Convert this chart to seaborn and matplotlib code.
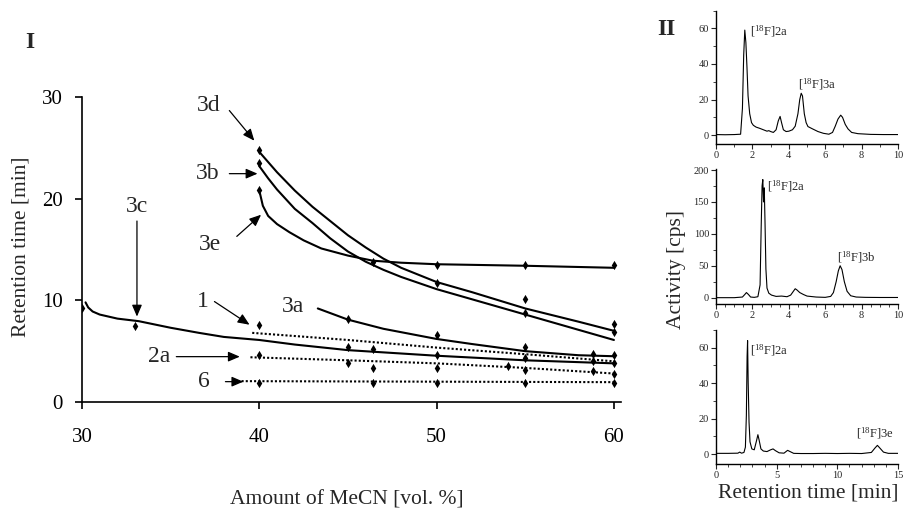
import numpy as np
import pandas as pd
import seaborn as sns
import matplotlib.pyplot as plt
from matplotlib.ticker import MultipleLocator

sns.set_style("ticks")
plt.rcParams['font.family'] = ['Liberation Serif', 'DejaVu Serif']
plt.rcParams['mathtext.default'] = 'regular'

# --- Panel I: retention time vs. amount of MeCN ---
# fitted curves (solid)
c3d_x = [40, 41, 42, 43, 44, 45, 46, 47, 48, 50, 52, 55, 58, 60]
c3d_y = [24.6, 22.6, 20.8, 19.2, 17.8, 16.4, 15.2, 14.1, 13.2, 11.8, 10.8, 9.2, 7.9, 7.0]
c3b_x = [40, 40.5, 41, 42, 43, 44, 45, 46, 47, 48, 50, 52, 55, 58, 60]
c3b_y = [23.2, 22.0, 20.9, 19.0, 17.6, 16.1, 14.8, 13.8, 13.0, 12.3, 11.1, 10.1, 8.6, 7.1, 6.1]
c3e_x = [40, 40.2, 40.5, 41, 41.7, 42.5, 43.5, 45, 46.4, 48, 50, 55, 60]
c3e_y = [20.8, 19.3, 18.3, 17.5, 16.7, 15.9, 15.1, 14.4, 13.9, 13.7, 13.55, 13.4, 13.2]
c3a_x = [43.3, 45, 47, 50, 52, 55, 58, 60]
c3a_y = [9.2, 8.1, 7.2, 6.2, 5.7, 5.0, 4.6, 4.5]
c3c_x = [30.2, 30.35, 30.6, 31, 32, 33.2, 35, 36.6, 38, 40, 42, 45, 50, 55, 60]
c3c_y = [9.8, 9.3, 8.9, 8.6, 8.2, 7.95, 7.3, 6.8, 6.4, 6.1, 5.65, 5.1, 4.55, 4.1, 3.8]

# fitted curves (dotted)
d1_x = [39.6, 45, 50, 55, 60]
d1_y = [6.8, 6.1, 5.35, 4.7, 4.0]
d2a_x = [39.5, 45, 50, 55, 60]
d2a_y = [4.4, 4.1, 3.8, 3.35, 2.8]
d6_x = [39.0, 60]
d6_y = [2.05, 1.95]

# measured points
p3d_x = [40, 50, 55, 60]
p3d_y = [24.8, 11.75, 10.1, 7.7]
p3b_x = [40, 55, 60]
p3b_y = [23.5, 8.75, 6.85]
p3e_x = [40, 46.4, 50, 55, 60]
p3e_y = [20.9, 13.8, 13.45, 13.45, 13.45]
p3a_x = [45, 50, 55, 60]
p3a_y = [8.2, 6.6, 5.45, 4.6]
p3c_x = [30, 33, 46.4, 50, 55, 58.8, 60]
p3c_y = [9.2, 7.5, 5.2, 4.65, 4.3, 4.75, 3.8]
p1_x = [40, 45, 58.8]
p1_y = [7.6, 5.45, 4.0]
p2a_x = [40, 45, 46.4, 50, 54, 55, 58.8, 60]
p2a_y = [4.6, 3.8, 3.3, 3.35, 3.55, 3.1, 3.0, 2.75]
p6_x = [40, 46.4, 50, 55, 60]
p6_y = [1.85, 1.85, 1.9, 1.85, 1.9]

# --- Panel II: radio-chromatograms ---
t1 = [0, 0.5, 1.0, 1.35, 1.45, 1.52, 1.58, 1.64, 1.7, 1.76, 1.85, 1.95, 2.05, 2.2, 2.4, 2.6, 2.8, 2.9,
      3.0, 3.15, 3.3, 3.42, 3.52, 3.6, 3.7, 3.85, 4.0, 4.2, 4.35, 4.5, 4.6, 4.68, 4.75, 4.85, 4.95,
      5.05, 5.3, 5.6, 5.9, 6.2, 6.4, 6.55, 6.7, 6.85, 6.95, 7.1, 7.25, 7.45, 7.8, 8.5, 9.2, 10.0]
a1 = [0.3, 0.2, 0.3, 0.5, 15, 45, 59, 52, 38, 22, 12, 7, 5.5, 4.5, 3.8, 3, 2.2, 2.5,
      2, 1.5, 3, 8, 10.5, 7, 3, 2, 2.2, 3, 5, 12, 20, 23.5, 22, 12, 7,
      4.8, 3.5, 2, 1, 0.5, 1.5, 5, 9, 11.2, 10, 6, 3.5, 1.5, 0.8, 0.4, 0.3, 0.3]
t2 = [0, 0.5, 1.0, 1.45, 1.58, 1.67, 1.78, 1.9, 2.1, 2.3, 2.42, 2.48, 2.53, 2.57, 2.61, 2.65, 2.69,
      2.74, 2.8, 2.9, 3.05, 3.3, 3.6, 3.9, 4.1, 4.25, 4.35, 4.45, 4.6, 4.8, 5.0, 5.5, 6.0, 6.3, 6.45,
      6.6, 6.72, 6.82, 6.92, 7.05, 7.2, 7.4, 7.7, 8.2, 9.0, 10.0]
a2 = [0, 0, 0, 1, 5, 8, 5, 1, 0.5, 1.5, 20, 110, 175, 185, 150, 172, 120,
      45, 15, 7, 4, 2, 2.5, 1.5, 4, 10, 14, 12, 8, 5, 2.5, 1, 0.5, 2, 8,
      25, 42, 50, 44, 25, 10, 3, 1, 0.5, 0.3, 0.3]
t3 = [0, 1.0, 1.8, 1.95, 2.1, 2.3, 2.42, 2.5, 2.56, 2.6, 2.65, 2.72, 2.8, 2.95, 3.15, 3.35, 3.45,
      3.55, 3.7, 3.9, 4.2, 4.5, 4.7, 4.9, 5.2, 5.6, 5.9, 6.1, 6.4, 7.0, 8.0, 9.0, 10.0, 11.0, 12.0,
      12.8, 13.1, 13.3, 13.5, 13.8, 14.2, 15.0]
a3 = [0.5, 0.5, 0.6, 1.2, 0.6, 1.0, 4, 22, 55, 64, 40, 18, 7, 3, 2.5, 8, 11,
      8, 3, 1.8, 1.5, 2.5, 3, 2, 0.8, 0.6, 2.2, 1.5, 0.5, 0.4, 0.4, 0.5, 0.4, 0.5, 0.4,
      1, 3.5, 5, 3.5, 1.2, 0.5, 0.5]

fig = plt.figure(figsize=(9.05, 5.13), dpi=100)

# ---------------- Panel I ----------------
ax = fig.add_axes([0.0906, 0.2164, 0.5956, 0.5945])
for cx, cy in [(c3d_x, c3d_y), (c3b_x, c3b_y), (c3e_x, c3e_y), (c3a_x, c3a_y), (c3c_x, c3c_y)]:
    sns.lineplot(x=cx, y=cy, ax=ax, color='black', lw=1.5, estimator=None, sort=False)
for cx, cy in [(d1_x, d1_y), (d2a_x, d2a_y), (d6_x, d6_y)]:
    sns.lineplot(x=cx, y=cy, ax=ax, color='black', lw=1.5, linestyle=(0, (1, 1)),
                 estimator=None, sort=False)
for px, py in [(p3d_x, p3d_y), (p3b_x, p3b_y), (p3e_x, p3e_y), (p3a_x, p3a_y),
               (p3c_x, p3c_y), (p1_x, p1_y), (p2a_x, p2a_y), (p6_x, p6_y)]:
    sns.scatterplot(x=px, y=py, ax=ax, marker='d', s=22, color='black', linewidth=0, zorder=3)

ax.set_xlim(30, 60.4)
ax.set_ylim(0, 30)
ax.set_xticks([30, 40, 50, 60])
ax.set_yticks([0, 10, 20, 30])
ax.tick_params(axis='both', direction='out', length=5, width=1.2, labelsize=15, colors='black')
ax.tick_params(axis='x', pad=14)
ax.tick_params(axis='y', pad=9)
sns.despine(ax=ax)
for s in ['left', 'bottom']:
    ax.spines[s].set_linewidth(1.2)
    ax.spines[s].set_color('black')

# compound labels with arrows: (text, text pos, arrow start, arrow tip)
labels = [
    ('3d', (37.13, 29.2), (38.31, 28.67), (39.72, 25.7)),
    ('3b', (37.08, 22.5), (38.31, 22.46), (39.9, 22.46)),
    ('3e', (37.23, 15.5), (38.73, 16.29), (40.1, 18.42)),
    ('3c', (33.1, 19.2), (33.1, 17.8), (33.1, 8.4)),
    ('1', (36.84, 9.85), (37.47, 9.88), (39.45, 7.6)),
    ('2a', (34.34, 4.45), (35.32, 4.46), (38.9, 4.46)),
    ('6', (36.85, 2.0), (38.09, 2.0), (39.1, 2.0)),
]
arrow_kw = dict(arrowstyle='-|>,head_length=0.7,head_width=0.3', lw=0.9, color='black',
                shrinkA=0, shrinkB=0, mutation_scale=10)
for txt, tpos, a0, a1_ in labels:
    ax.text(tpos[0], tpos[1], txt, fontsize=17, ha='center', va='center')
    ax.annotate('', xy=a1_, xytext=a0, arrowprops=arrow_kw)
ax.text(41.91, 9.4, '3a', fontsize=17, ha='center', va='center')

fig.text(0.0232, 0.5185, 'Retention time [min]', rotation=90, fontsize=15.5, ha='center', va='center')
fig.text(0.383, 0.0253, 'Amount of MeCN [vol. %]', fontsize=15.5, ha='center', va='center')
fig.text(0.033, 0.918, 'I', fontsize=17, fontweight='bold', ha='center', va='center')

# ---------------- Panel II ----------------
fig.text(0.736, 0.943, 'II', fontsize=17, fontweight='bold', ha='center', va='center')

panels = [
    (t1, a1, [0.7912, 0.7193, 0.2011, 0.2602], (0, 10), (-5, 70), 2, 1, [0, 20, 40, 60], 10,
     [('[$^{18}$F]2a', 1.85, 58.5), ('[$^{18}$F]3a', 4.48, 28.7)]),
    (t2, a2, [0.7912, 0.4068, 0.2011, 0.2643], (0, 10), (-10.4, 202), 2, 0.5, [0, 50, 100, 150, 200], 25,
     [('[$^{18}$F]2a', 2.78, 174), ('[$^{18}$F]3b', 6.63, 63)]),
    (t3, a3, [0.7912, 0.0955, 0.2011, 0.2614], (0, 15), (-5.5, 70), 5, 1, [0, 20, 40, 60], 10,
     [('[$^{18}$F]2a', 2.78, 58.7), ('[$^{18}$F]3e', 11.5, 12)]),
]
for t, a, rect, xl, yl, xmaj, xmin, yt, ymin, texts in panels:
    axp = fig.add_axes(rect)
    sns.lineplot(x=t, y=a, ax=axp, color='black', lw=0.8, estimator=None, sort=False)
    axp.set_xlim(*xl)
    axp.set_ylim(*yl)
    axp.xaxis.set_major_locator(MultipleLocator(xmaj))
    axp.xaxis.set_minor_locator(MultipleLocator(xmin))
    axp.set_yticks(yt)
    axp.yaxis.set_minor_locator(MultipleLocator(ymin))
    axp.tick_params(which='major', direction='out', length=3.5, width=0.8, labelsize=7.5, pad=1.5)
    axp.tick_params(which='minor', direction='out', length=2, width=0.6)
    sns.despine(ax=axp)
    for s in ['left', 'bottom']:
        axp.spines[s].set_linewidth(1.0)
        axp.spines[s].set_color('black')
    for txt, tx, ty in texts:
        axp.text(tx, ty, txt, fontsize=9, ha='left', va='center')

fig.text(0.747, 0.4756, 'Activity [cps]', rotation=90, fontsize=15.5, ha='center', va='center')
fig.text(0.893, 0.039, 'Retention time [min]', fontsize=15.5, ha='center', va='center')

fig.savefig('out.png', dpi=100, facecolor='white')
